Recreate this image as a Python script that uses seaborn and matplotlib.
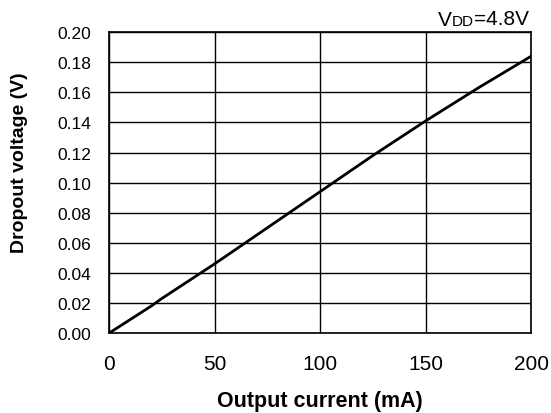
import matplotlib
matplotlib.use('Agg')
import matplotlib.pyplot as plt
import seaborn as sns
import pandas as pd

# Dropout voltage vs output current, VDD = 4.8V
current_ma = [0, 10, 20, 25, 50, 75, 100, 125, 150, 175, 200]
dropout_v = [0.0, 0.009, 0.018, 0.023, 0.046, 0.070, 0.094, 0.118, 0.141, 0.163, 0.184]
x_ticks = [0, 50, 100, 150, 200]
y_ticks = [0.00, 0.02, 0.04, 0.06, 0.08, 0.10, 0.12, 0.14, 0.16, 0.18, 0.20]

df = pd.DataFrame({'current': current_ma, 'dropout': dropout_v})

sns.set_style('white')
plt.rcParams['font.family'] = ['Liberation Sans', 'DejaVu Sans']
plt.rcParams['text.color'] = 'black'
plt.rcParams['axes.labelcolor'] = 'black'
plt.rcParams['xtick.color'] = 'black'
plt.rcParams['ytick.color'] = 'black'

fig, ax = plt.subplots(figsize=(5.51, 4.14), dpi=100)
fig.subplots_adjust(left=0.198, right=0.964, top=0.920, bottom=0.193)

sns.lineplot(data=df, x='current', y='dropout', color='black', linewidth=2, ax=ax)

ax.set_xlim(0, 200)
ax.set_ylim(0, 0.2)
ax.set_xticks(x_ticks)
ax.set_yticks(y_ticks)
ax.set_xticklabels([str(v) for v in x_ticks], fontsize=15)
ax.set_yticklabels([f'{v:.2f}' for v in y_ticks], fontsize=12.5)
ax.tick_params(axis='both', length=0)
ax.tick_params(axis='x', pad=15)
ax.tick_params(axis='y', pad=13)

ax.grid(True, color='black', linewidth=1)
ax.set_axisbelow(True)
for s in ax.spines.values():
    s.set_color('black')
    s.set_linewidth(1.2)

ax.set_xlabel('Output current (mA)', fontsize=15.5, fontweight='bold')
ax.set_ylabel('Dropout voltage (V)', fontsize=14, fontweight='bold')
ax.xaxis.set_label_coords(0.5, -0.19)
ax.yaxis.set_label_coords(-0.192, 0.568)

# VDD label with small "DD"
t1 = ax.text(0.78, 1.012, 'V', transform=ax.transAxes, fontsize=15, va='bottom', ha='left')
t2 = ax.annotate('DD', xy=(1, 0.02), xycoords=t1, fontsize=11, va='bottom', ha='left')
ax.annotate('=4.8V', xy=(1, 0), xycoords=t2, fontsize=15, va='bottom', ha='left')

plt.savefig('out.png', dpi=100)
plt.close()
